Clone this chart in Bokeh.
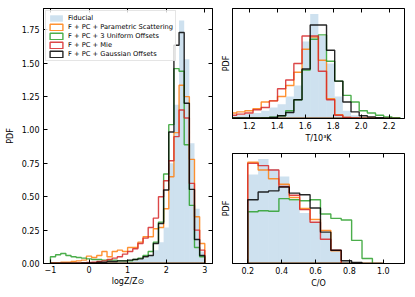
import numpy as np
from bokeh.plotting import figure
from bokeh.layouts import row, column
from bokeh.models import LinearAxis, FixedTicker, Range1d, PrintfTickFormatter
from bokeh.embed import file_html
from bokeh.resources import INLINE

# ---------------- data ----------------
# metallicity histogram (30 bins from -1 to 3)
z_range = (-1.0, 3.0)
z_nbins = 30
z_fiducial = [0.003, 0.003, 0.003, 0.003, 0.003, 0.003, 0.003, 0.003, 0.003, 0.003,
              0.004, 0.004, 0.005, 0.008, 0.01, 0.015, 0.02, 0.03, 0.04, 0.06,
              0.1, 0.16, 0.27, 0.75, 1.19, 1.82, 1.53, 0.9, 0.41, 0.09]
z_param = [0.005, 0.005, 0.01, 0.01, 0.015, 0.02, 0.025, 0.055, 0.045, 0.06,
           0.09, 0.05, 0.09, 0.1, 0.09, 0.12, 0.12, 0.16, 0.2, 0.2,
           0.26, 0.27, 0.41, 0.65, 0.98, 1.335, 1.25, 0.78, 0.35, 0.15]
z_uniform = [0.05, 0.065, 0.075, 0.06, 0.05, 0.045, 0.04, 0.035, 0.03, 0.03,
             0.025, 0.025, 0.025, 0.02, 0.02, 0.02, 0.03, 0.04, 0.06, 0.09,
             0.16, 0.31, 0.67, 1.04, 1.46, 1.44, 0.89, 0.435, 0.12, 0.05]
z_mie = [0.002, 0.002, 0.002, 0.003, 0.003, 0.004, 0.005, 0.008, 0.01, 0.015,
         0.02, 0.03, 0.04, 0.05, 0.07, 0.09, 0.11, 0.15, 0.19, 0.27,
         0.34, 0.5, 0.62, 0.77, 0.95, 1.15, 1.09, 0.6, 0.25, 0.1]
z_gauss = [0.002, 0.002, 0.002, 0.003, 0.003, 0.003, 0.004, 0.005, 0.005, 0.01,
           0.01, 0.015, 0.015, 0.02, 0.02, 0.025, 0.03, 0.035, 0.05, 0.06,
           0.15, 0.3, 0.55, 0.985, 1.635, 1.73, 1.2, 0.555, 0.18, 0.06]

# temperature histogram (21 bins), relative PDF
t_range = (1.0516, 2.2780)
t_nbins = 21
t_fiducial = [0.02, 0.03, 0.04, 0.05, 0.07, 0.1, 0.13, 0.2, 0.3, 0.7, 0.95,
              0.75, 0.5, 0.2, 0.07, 0.03, 0.01, 0.005, 0.003, 0.002, 0.001]
t_param = [0.05, 0.06, 0.07, 0.09, 0.15, 0.16, 0.2, 0.3, 0.42, 0.63, 0.74,
           0.53, 0.18, 0.035, 0.01, 0.005, 0.003, 0.002, 0.001, 0.0, 0.0]
t_uniform = [0.005, 0.005, 0.005, 0.005, 0.008, 0.012, 0.025, 0.07, 0.17, 0.44, 0.72,
             0.76, 0.52, 0.34, 0.21, 0.15, 0.07, 0.05, 0.03, 0.015, 0.008]
t_mie = [0.03, 0.04, 0.05, 0.08, 0.1, 0.16, 0.27, 0.35, 0.5, 0.75, 0.75,
         0.43, 0.17, 0.03, 0.01, 0.005, 0.003, 0.002, 0.001, 0.0, 0.0]
t_gauss = [0.005, 0.005, 0.005, 0.005, 0.005, 0.01, 0.025, 0.055, 0.17, 0.45, 0.85,
           0.85, 0.62, 0.34, 0.15, 0.06, 0.025, 0.015, 0.008, 0.003, 0.001]

# C/O histogram (13 bins), relative PDF
c_range = (0.2, 0.9969)
c_nbins = 13
c_fiducial = [0.81, 0.95, 0.86, 0.79, 0.57, 0.46, 0.38, 0.28, 0.12, 0.02, 0.0, 0.0, 0.0]
c_param = [0.92, 0.85, 0.77, 0.72, 0.6, 0.5, 0.4, 0.3, 0.115, 0.0, 0.0, 0.0, 0.0]
c_uniform = [0.47, 0.48, 0.475, 0.59, 0.58, 0.57, 0.58, 0.45, 0.41, 0.395, 0.21, 0.045, 0.0]
c_mie = [0.91, 0.89, 0.85, 0.7, 0.62, 0.49, 0.375, 0.22, 0.12, 0.0, 0.0, 0.0, 0.0]
c_gauss = [0.58, 0.65, 0.66, 0.695, 0.64, 0.625, 0.505, 0.285, 0.12, 0.025, 0.01, 0.0, 0.0]

labels = ["Fiducial", "F + PC + Parametric Scattering", "F + PC + 3 Uniform Offsets",
          "F + PC + Mie", "F + PC + Gaussian Offsets"]
colors = ["#1f77b4", "#ff7f0e", "#2ca02c", "#d62728", "#000000"]

z_ticks = [-1, 0, 1, 2, 3]
z_yticks = [0.0, 0.25, 0.5, 0.75, 1.0, 1.25, 1.5, 1.75]
t_ticks = [1.2, 1.4, 1.6, 1.8, 2.0, 2.2]
c_ticks = [0.2, 0.4, 0.6, 0.8, 1.0]

FONT = "DejaVu Sans"


def step_xy(edges, vals):
    xs = [edges[0]]
    ys = [0.0]
    for i, v in enumerate(vals):
        xs += [edges[i], edges[i + 1]]
        ys += [v, v]
    xs.append(edges[-1])
    ys.append(0.0)
    return xs, ys


def tick_axis(ax, ticks, fmt=None, show_labels=True):
    ax.ticker = FixedTicker(ticks=ticks)
    ax.major_tick_in = 4
    ax.major_tick_out = 0
    ax.minor_tick_line_color = None
    ax.axis_line_color = "black"
    ax.major_tick_line_color = "black"
    ax.major_label_text_font = FONT
    ax.major_label_text_font_size = "8px"
    ax.axis_label_text_font = FONT
    ax.axis_label_text_font_style = "normal"
    ax.axis_label_text_font_size = "8px"
    ax.axis_label_text_color = "black"
    if fmt is not None:
        ax.formatter = PrintfTickFormatter(format=fmt)
    if show_labels:
        ax.major_label_text_color = "black"
        ax.major_label_standoff = 2
    else:
        ax.major_label_text_color = None
        ax.major_label_standoff = 0


def draw_hists(p, edges, series, legend=False):
    fid = series[0]
    kw = dict(legend_label=labels[0]) if legend else {}
    p.quad(left=edges[:-1], right=edges[1:], top=fid, bottom=0,
           fill_color=colors[0], fill_alpha=0.22, line_color=None, **kw)
    for s, c, lab in zip(series[1:], colors[1:], labels[1:]):
        xs, ys = step_xy(edges, s)
        kw = dict(legend_label=lab) if legend else {}
        p.patch(xs, ys, fill_alpha=0, line_color=c, line_width=1.4,
                line_alpha=0.85, **kw)


def base_fig(fw, fh, xr, yr, bl, br, bt, bb):
    p = figure(frame_width=fw, frame_height=fh, x_range=Range1d(*xr), y_range=Range1d(*yr),
               output_backend="svg", toolbar_location=None,
               min_border_left=bl, min_border_right=br, min_border_top=bt, min_border_bottom=bb)
    p.grid.visible = False
    p.outline_line_color = "black"
    p.outline_line_width = 1
    p.background_fill_color = "white"
    p.border_fill_color = "white"
    return p


# ---------------- main panel ----------------
z_edges = np.linspace(z_range[0], z_range[1], z_nbins + 1)
pm = base_fig(169, 255, (-1.18, 3.2), (0, 1.91), 43, 6, 8, 34)
draw_hists(pm, z_edges, [z_fiducial, z_param, z_uniform, z_mie, z_gauss], legend=True)
tick_axis(pm.xaxis[0], z_ticks, "%d")
pm.xaxis[0].major_label_overrides = {-1: "\u22121"}
pm.xaxis[0].axis_label = "logZ/Z\u2299"
pm.xaxis[0].major_label_standoff = 2
pm.xaxis[0].axis_label_standoff = 1
tick_axis(pm.yaxis[0], z_yticks, "%.2f")
pm.yaxis[0].axis_label = "PDF"
pm.yaxis[0].major_label_standoff = 4
pm.yaxis[0].axis_label_standoff = 4
top_ax = LinearAxis()
tick_axis(top_ax, z_ticks, show_labels=False)
pm.add_layout(top_ax, "above")
right_ax = LinearAxis()
tick_axis(right_ax, z_yticks, show_labels=False)
pm.add_layout(right_ax, "right")

lg = pm.legend[0]
lg.location = "top_left"
lg.margin = 2
lg.padding = 2
lg.spacing = 0
lg.label_text_font = FONT
lg.label_text_font_size = "6.7px"
lg.label_text_color = "black"
lg.label_height = 9
lg.glyph_height = 8
lg.glyph_width = 16
lg.label_standoff = 4
lg.border_line_color = "#cccccc"
lg.border_line_width = 1
lg.background_fill_alpha = 0.8

# ---------------- temperature panel ----------------
t_edges = np.linspace(t_range[0], t_range[1], t_nbins + 1)
pt = base_fig(172, 110, (1.08, 2.31), (0, 1.0), 14, 11, 8, 32)
draw_hists(pt, t_edges, [t_fiducial, t_param, t_uniform, t_mie, t_gauss])
tick_axis(pt.xaxis[0], t_ticks, "%.1f")
pt.xaxis[0].axis_label = "T/10\u00b3K"
pt.xaxis[0].major_label_standoff = 3
pt.xaxis[0].axis_label_standoff = 2
tick_axis(pt.yaxis[0], [], show_labels=False)
pt.yaxis[0].axis_label = "PDF"
pt.yaxis[0].axis_label_standoff = 2
ta = LinearAxis()
tick_axis(ta, t_ticks, show_labels=False)
pt.add_layout(ta, "above")

# ---------------- C/O panel ----------------
c_edges = np.linspace(c_range[0], c_range[1], c_nbins + 1)
pc = base_fig(172, 110, (0.11, 1.125), (0, 1.0), 14, 11, 3, 34)
draw_hists(pc, c_edges, [c_fiducial, c_param, c_uniform, c_mie, c_gauss])
tick_axis(pc.xaxis[0], c_ticks, "%.1f")
pc.xaxis[0].axis_label = "C/O"
pc.xaxis[0].major_label_standoff = 3
pc.xaxis[0].axis_label_standoff = 2
tick_axis(pc.yaxis[0], [], show_labels=False)
pc.yaxis[0].axis_label = "PDF"
pc.yaxis[0].axis_label_standoff = 2
ca = LinearAxis()
tick_axis(ca, c_ticks, show_labels=False)
pc.add_layout(ca, "above")

layout = row(pm, column(pt, pc))
open("out.html", "w").write(file_html(layout, INLINE))
